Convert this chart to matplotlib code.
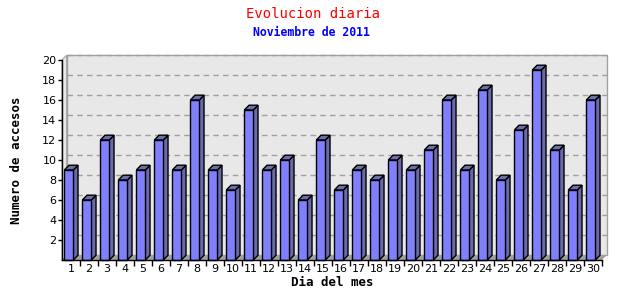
import matplotlib
matplotlib.use("Agg")
import matplotlib.pyplot as plt
from matplotlib.patches import Polygon, Rectangle
import numpy as np

# daily visits, November 2011
dias = list(range(1, 31))
accesos = [9, 6, 12, 8, 9, 12, 9, 16, 9, 7, 15, 9, 10, 6, 12,
           7, 9, 8, 10, 9, 11, 16, 9, 17, 8, 13, 19, 11, 7, 16]
y_ticks = [2, 4, 6, 8, 10, 12, 14, 16, 18, 20]

FRONT = "#8080ff"
SIDE = "#6a6aa8"
TOP = "#6e6eae"
WALL = "#e8e8e8"
FLOOR = "#a0a0a0"

fig = plt.figure(figsize=(6.4, 3.0), dpi=100)
ax = fig.add_axes([62 / 640, 40 / 300, 540 / 640, 200 / 300])
x0, x1 = 0.5, 30.5
ax.set_xlim(x0, x1)
ax.set_ylim(0, 20)
for s in ax.spines.values():
    s.set_visible(False)

dx, dy = 0.26, 0.48   # 3d depth offset in data units (~5 px)

# back wall
ax.add_patch(Rectangle((x0 + dx, dy), x1 - x0, 20, facecolor=WALL,
                       edgecolor="#a0a0a0", lw=1, clip_on=False, zorder=0))
# left wall
ax.add_patch(Polygon([(x0, 0), (x0 + dx, dy), (x0 + dx, 20 + dy), (x0, 20)],
                     closed=True, facecolor=WALL, edgecolor="#a0a0a0", lw=0.8,
                     clip_on=False, zorder=0))
# floor
ax.add_patch(Polygon([(x0, 0), (x1, 0), (x1 + dx, dy), (x0 + dx, dy)],
                     closed=True, facecolor=FLOOR, edgecolor="none",
                     clip_on=False, zorder=1))
# grid on back wall
for v in y_ticks:
    ax.plot([x0 + dx, x1 + dx], [v + dy, v + dy], color="#a0a0a0", lw=1,
            ls=(0, (4, 3)), zorder=0.5, clip_on=False)

# bars
w = 0.5
for d, v in zip(dias, accesos):
    left = d - 0.37
    right = left + w
    ax.add_patch(Polygon([(right, 0), (right + dx, dy), (right + dx, v + dy), (right, v)],
                         closed=True, facecolor=SIDE, edgecolor="black", lw=1,
                         joinstyle="miter", clip_on=False, zorder=3))
    ax.add_patch(Polygon([(left, v), (left + dx, v + dy), (right + dx, v + dy), (right, v)],
                         closed=True, facecolor=TOP, edgecolor="black", lw=1,
                         joinstyle="miter", clip_on=False, zorder=3))
    ax.add_patch(Rectangle((left, 0), w, v, facecolor=FRONT, edgecolor="black",
                           lw=1, joinstyle="miter", clip_on=False, zorder=4))

# axis lines
ax.plot([x0, x0], [0, 20], color="black", lw=1, clip_on=False, zorder=5)
ax.plot([x0, x1], [0, 0], color="black", lw=1, clip_on=False, zorder=5)

ax.set_yticks(y_ticks)
ax.set_yticklabels([str(t) for t in y_ticks], fontsize=8, family="DejaVu Sans")
ax.set_xticks(dias)
ax.set_xticklabels([str(d) for d in dias], fontsize=8, family="DejaVu Sans")
ax.tick_params(axis="x", length=0, pad=3)
ax.tick_params(axis="y", length=3, width=1, pad=1)
# minor ticks between days on the x axis
ax.set_xticks(np.arange(1.5, 31, 1), minor=True)
ax.tick_params(axis="x", which="minor", length=4, width=1, direction="out")

ax.set_ylabel("Numero de accesos", fontsize=9, family="DejaVu Sans Mono",
              fontweight="bold", labelpad=14)
ax.set_xlabel("Dia del mes", fontsize=9, family="DejaVu Sans Mono",
              fontweight="bold", labelpad=1)

fig.text(313 / 640, 1 - 14 / 300, "Evolucion diaria", color="#ff0000",
         fontsize=10, family="DejaVu Sans Mono", ha="center", va="center")
fig.text(311 / 640, 1 - 32 / 300, "Noviembre de 2011", color="#0000ff",
         fontsize=8.3, family="DejaVu Sans Mono", fontweight="bold",
         ha="center", va="center")

fig.savefig("out.png", dpi=100)
